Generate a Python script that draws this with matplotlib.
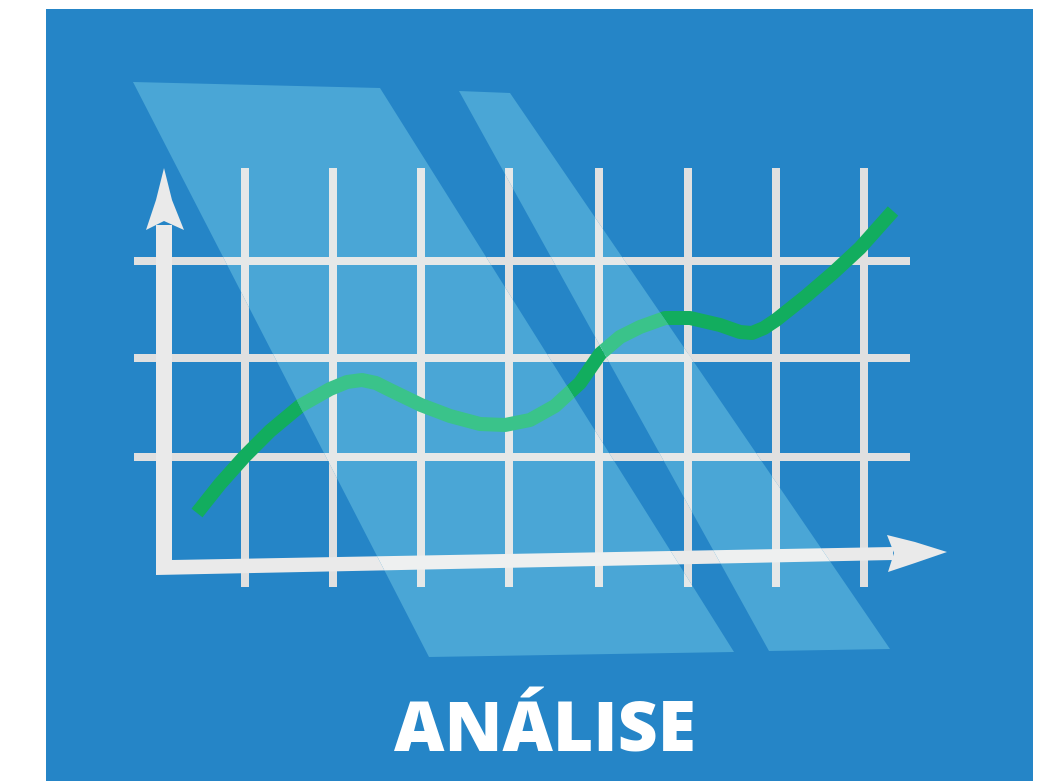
import numpy as np
import matplotlib
matplotlib.use("Agg")
import matplotlib.pyplot as plt
from matplotlib.patches import Polygon, Rectangle

# ---- data (pixel space of the illustration) ----
W, H = 1039, 781
grid_x = [245, 333, 421, 509, 599, 688, 776, 864]
grid_y = [261, 358, 457]
grid_x_span = (134, 910)
grid_y_span = (168, 587)

curve_x = [197, 220, 245, 270, 300, 330, 347, 362, 376, 390, 421, 450, 480, 505,
           530, 555, 580, 600, 620, 640, 665, 690, 720, 740, 752, 764, 776, 805, 833, 860, 893]
curve_y = [513, 484, 456, 431, 406, 389, 382, 380, 383, 390, 405, 416, 424, 425,
           420, 406, 383, 354, 337, 327, 318, 318, 325, 332, 333, 328, 320, 297, 273, 248, 211]

title = "ANÁLISE"

# shapes
axis_body = [(156, 225), (172, 225), (172, 560), (893, 547), (893, 560), (156, 575)]
y_head = [(164, 168), (172, 200), (184, 230), (164, 221), (146, 230), (156, 200)]
x_head = [(947, 552), (915, 542), (887, 535), (894, 553), (888, 572), (915, 563)]
panels = [
    [(133, 82), (380, 88), (734, 652), (429, 657)],
    [(459, 91), (510, 93), (890, 649), (769, 651)],
]

BLUE = np.array([37, 133, 199]) / 255
GRID = np.array([224, 224, 224]) / 255
AXIS = np.array([234, 234, 234]) / 255
GREEN = np.array([18, 173, 94]) / 255
SCREEN = np.array([43, 68, 69]) / 255


def screen(c):
    return tuple(1 - (1 - np.asarray(c)) * (1 - SCREEN))


PX = 72 / 100.0  # px -> pt

fig = plt.figure(figsize=(W / 100, H / 100), dpi=100, facecolor="white")
ax = fig.add_axes([0, 0, 1, 1])
ax.set_xlim(0, W)
ax.set_ylim(H, 0)
ax.axis("off")

ax.add_patch(Rectangle((46, 9), 1033 - 46, H - 9, facecolor=BLUE, edgecolor="none", zorder=0))


def draw_layer(grid_c, axis_c, green_c, z, clip=None):
    arts = []
    for x in grid_x:
        arts += ax.plot([x, x], grid_y_span, color=grid_c, lw=8 * PX,
                        solid_capstyle="butt", zorder=z)
    for y in grid_y:
        arts += ax.plot(grid_x_span, [y, y], color=grid_c, lw=8 * PX,
                        solid_capstyle="butt", zorder=z)
    arts += ax.plot(curve_x, curve_y, color=green_c, lw=14 * PX,
                    solid_capstyle="butt", solid_joinstyle="round", zorder=z + 0.5)
    for shp in (axis_body, y_head, x_head):
        p = Polygon(shp, closed=True, facecolor=axis_c, edgecolor="none", zorder=z + 0.8)
        ax.add_patch(p)
        arts.append(p)
    if clip is not None:
        for a in arts:
            a.set_clip_path(clip)


draw_layer(GRID, AXIS, GREEN, 1)

for i, pts in enumerate(panels):
    pp = Polygon(pts, closed=True, facecolor=screen(BLUE), edgecolor="none", zorder=4)
    ax.add_patch(pp)
    draw_layer(screen(GRID), screen(AXIS), screen(GREEN), 5 + i * 2, clip=pp)

ax.text(545, 751, title, color="white", fontsize=50, fontweight="heavy",
        family=["Open Sans", "DejaVu Sans"], ha="center", va="baseline", zorder=20)

fig.savefig("out.png", dpi=100, facecolor="white")
